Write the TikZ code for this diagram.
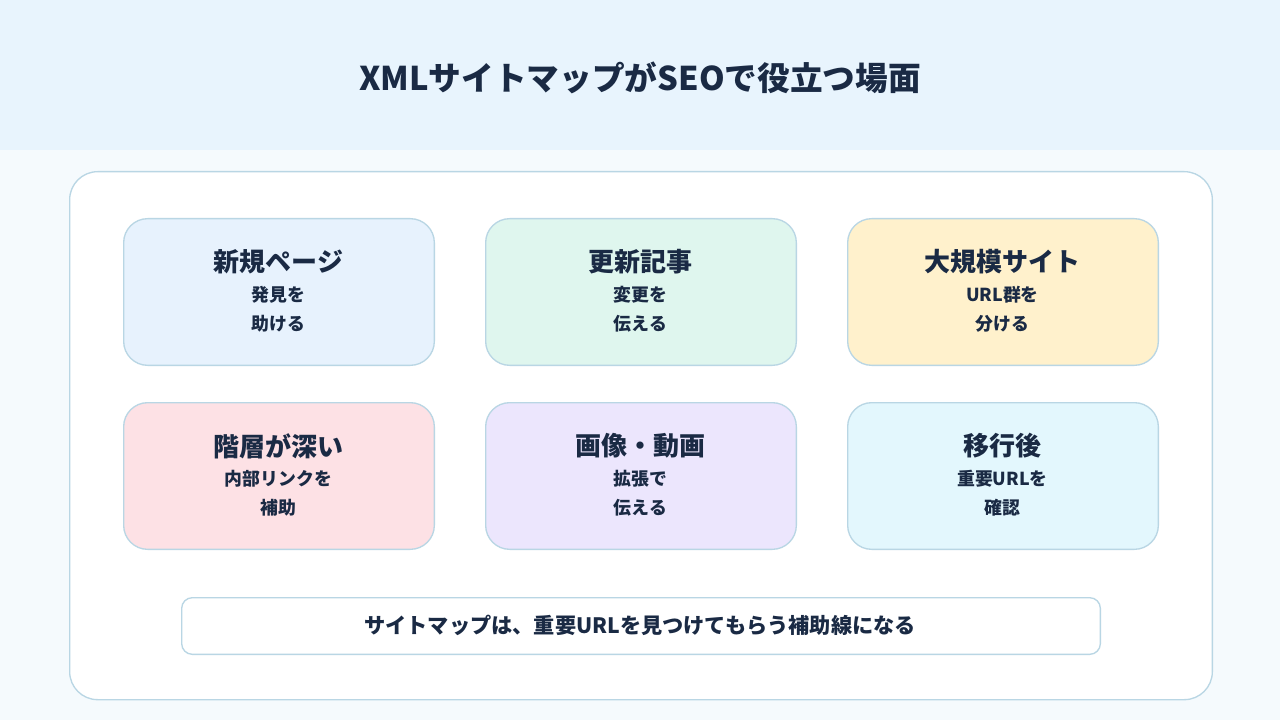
\documentclass[tikz,border=0pt]{standalone}
\usepackage{fontspec}
\setmainfont{Noto Sans CJK JP}
\definecolor{ink}{HTML}{1A2A44}
\definecolor{hdr}{HTML}{E8F4FD}
\definecolor{bgc}{HTML}{F5FAFD}
\definecolor{bord}{HTML}{B9D6E4}
\definecolor{cA}{HTML}{E7F2FD}
\definecolor{cB}{HTML}{DFF6EE}
\definecolor{cC}{HTML}{FFF1CC}
\definecolor{cD}{HTML}{FDE1E5}
\definecolor{cE}{HTML}{ECE6FD}
\definecolor{cF}{HTML}{E3F7FD}
\begin{document}
\begin{tikzpicture}[x=0.75pt,y=-0.75pt,
 card/.style={draw=bord,line width=1pt,rounded corners=18pt,minimum width=233pt,minimum height=110pt,anchor=north west},
 ttl/.style={font=\bfseries\fontsize{19.5}{22}\selectfont,text=ink},
 sub/.style={font=\bfseries\fontsize{13.4}{15}\selectfont,text=ink}]
\fill[bgc] (0,0) rectangle (1280,720);
\useasboundingbox (0,0) rectangle (1280,720);
\fill[hdr] (0,0) rectangle (1280,150);
\node[font=\bfseries\fontsize{24.5}{28}\selectfont,text=ink] (title) at (640,78) {XMLサイトマップがSEOで役立つ場面};
\node[draw=bord,fill=white,line width=1pt,rounded corners=21pt,minimum width=857pt,minimum height=396pt,anchor=north west] (panel) at (69,171) {};
\foreach \n/\x/\y/\c/\t/\a/\b in {
 a/123/218/cA/新規ページ/発見を/助ける,
 b/485/218/cB/更新記事/変更を/伝える,
 c/847/218/cC/大規模サイト/URL群を/分ける,
 d/123/402/cD/階層が深い/内部リンクを/補助,
 e/485/402/cE/画像・動画/拡張で/伝える,
 f/847/402/cF/移行後/重要URLを/確認}{
 \node[card,fill=\c] (\n) at (\x,\y) {};
 \node[ttl] (\n t) at (\x+155.5,\y+44) {\t};
 \node[sub] (\n s1) at (\x+155.5,\y+77) {\a};
 \node[sub] (\n s2) at (\x+155.5,\y+106) {\b};
}
\node[draw=bord,fill=white,line width=1pt,rounded corners=8pt,minimum width=689pt,minimum height=42.5pt,anchor=north west] (bar) at (181,597) {};
\node[font=\bfseries\fontsize{15.9}{18}\selectfont,text=ink] (bart) at (640,625) {サイトマップは、重要URLを見つけてもらう補助線になる};
\end{tikzpicture}
\end{document}
